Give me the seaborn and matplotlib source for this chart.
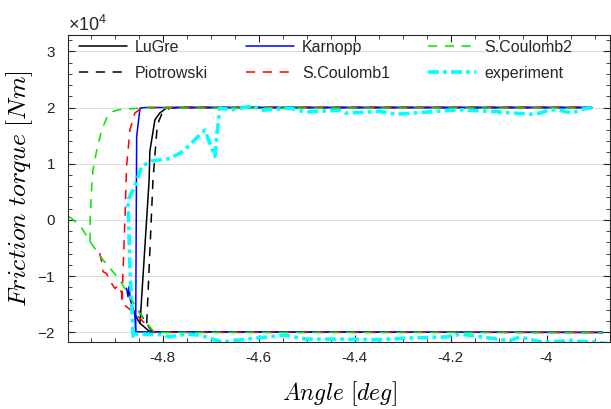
import numpy as np
import seaborn as sns
import matplotlib.pyplot as plt
from matplotlib.ticker import MultipleLocator, ScalarFormatter, FuncFormatter

# values, torque in units of 1e4 Nm
lugre_rise_x = [-4.847, -4.828, -4.8265, -4.816, -4.806, -4.792, -4.774, -3.906]
lugre_rise_y = [-1.84, 0.71, 1.22, 1.78, 1.90, 1.99, 2.00, 2.00]
lugre_low_x = [-4.862, -4.847, -4.826, -3.883]
lugre_low_y = [-1.62, -1.84, -1.99, -2.00]

piot_rise_x = [-4.833, -4.820, -4.811, -4.801, -4.785, -4.764, -3.906]
piot_rise_y = [-1.84, 0.71, 1.69, 1.90, 1.99, 2.00, 2.00]
piot_low_x = [-4.850, -4.833, -4.822, -3.883]
piot_low_y = [-1.62, -1.84, -1.99, -2.00]

karn_rise_x = [-4.856, -4.854, -4.847, -4.835, -3.906]
karn_rise_y = [-1.99, 1.48, 1.99, 2.00, 2.00]
karn_low_x = [-4.875, -4.872, -4.870, -4.867, -4.865, -4.858, -4.856, -3.883]
karn_low_y = [-1.215, -1.365, -1.187, -1.423, -1.482, -1.66, -1.99, -2.00]

sc1_rise_x = [-4.8845, -4.881, -4.878, -4.875, -4.868, -4.858, -4.847, -4.835, -3.906]
sc1_rise_y = [-1.42, -0.59, 0.12, 0.95, 1.60, 1.90, 1.97, 2.00, 2.00]
sc1_low_x = [-4.931, -4.927, -4.924, -4.917, -4.906, -4.899, -4.8925, -4.885,
             -4.8845, -4.858, -4.826, -4.818, -3.883]
sc1_low_y = [-0.59, -0.74, -0.92, -0.95, -1.13, -1.22, -1.16, -1.30,
             -1.48, -1.66, -1.93, -2.00, -2.00]

sc2_rise_x = [-4.951, -4.951, -4.948, -4.945, -4.937, -4.927, -4.916, -4.903, -4.892, -4.847, -3.906]
sc2_rise_y = [-0.39, 0.00, 0.53, 0.89, 1.25, 1.60, 1.82, 1.93, 1.96, 1.99, 1.99]
sc2_low_x = [-4.995, -4.972, -4.951, -4.924, -4.889, -4.868, -4.847, -4.826, -4.816, -3.883]
sc2_low_y = [0.06, -0.09, -0.39, -0.71, -1.07, -1.37, -1.66, -1.91, -2.00, -2.00]

exp_x = [-3.866, -3.901, -3.952, -4.012, -4.056, -4.077, -4.136, -4.179, -4.209, -4.283,
         -4.356, -4.429, -4.501, -4.545, -4.604, -4.677, -4.721, -4.750, -4.787, -4.801,
         -4.857, -4.861, -4.868, -4.872, -4.858, -4.844, -4.823, -4.785, -4.757, -4.712,
         -4.691, -4.681, -4.654, -4.612, -4.594, -4.535, -4.503, -4.431, -4.420, -4.347,
         -4.3125, -4.247, -4.181, -4.097, -4.035, -4.014, -3.993, -3.972, -3.948, -3.924,
         -3.906]
exp_y = [-2.21, -2.17, -2.15, -2.17, -2.08, -2.15, -2.08, -2.03, -2.08, -2.10,
         -2.13, -2.12, -2.12, -2.05, -2.10, -2.17, -2.05, -2.03, -2.08, -2.04,
         -2.03, -2.10, -0.83, 0.36, 0.59, 0.95, 1.05, 1.09, 1.22, 1.60,
         1.13, 1.99, 1.96, 2.03, 1.95, 1.99, 1.92, 1.95, 1.90, 1.93,
         1.88, 1.92, 1.96, 1.92, 1.88, 1.90, 1.96, 1.95, 1.90, 1.97,
         2.00]

sns.set_theme(style='ticks')
plt.rcParams['font.family'] = ['Liberation Sans', 'DejaVu Sans']
plt.rcParams['mathtext.fontset'] = 'custom'
plt.rcParams['mathtext.rm'] = 'Liberation Sans'
plt.rcParams['axes.unicode_minus'] = False

fig = plt.figure(figsize=(6.11, 4.09), dpi=100)
ax = fig.add_axes([0.1113, 0.1646, 0.887, 0.7499])


def seg(x, y, color, label=None, lw=1.1, ls='-'):
    sns.lineplot(x=np.array(x), y=np.array(y) * 1e4, sort=False, estimator=None,
                 ax=ax, color=color, linewidth=lw, linestyle=ls, label=label)


dash = (0, (6, 5))
seg(lugre_low_x, lugre_low_y, 'black')
seg(lugre_rise_x, lugre_rise_y, 'black', 'LuGre')
seg(piot_low_x, piot_low_y, 'black', ls=dash)
seg(piot_rise_x, piot_rise_y, 'black', 'Piotrowski', ls=dash)
seg(karn_low_x, karn_low_y, '#0000ff')
seg(karn_rise_x, karn_rise_y, '#0000ff', 'Karnopp')
seg(sc1_low_x, sc1_low_y, '#ff0000', ls=dash)
seg(sc1_rise_x, sc1_rise_y, '#ff0000', 'S.Coulomb1', ls=dash)
seg(sc2_low_x, sc2_low_y, '#00e600', ls=dash)
seg(sc2_rise_x, sc2_rise_y, '#00e600', 'S.Coulomb2', ls=dash)
seg(exp_x, exp_y, '#00ffff', 'experiment', lw=2.6, ls=(0, (3, 1.2, 1, 1.2)))

ax.set_xlim(-4.997, -3.868)
ax.set_ylim(-2.165e4, 3.29e4)
ax.xaxis.set_major_locator(MultipleLocator(0.2))
ax.xaxis.set_minor_locator(MultipleLocator(0.05))
ax.yaxis.set_major_locator(MultipleLocator(1e4))
ax.yaxis.set_minor_locator(MultipleLocator(2e3))
ax.xaxis.set_major_formatter(FuncFormatter(lambda v, p: f'{v:g}'))
fmt = ScalarFormatter(useMathText=True)
fmt.set_powerlimits((0, 0))
ax.yaxis.set_major_formatter(fmt)
off = ax.yaxis.get_offset_text()
off.set_fontsize(13)
off.set_color('#262626')

ax.tick_params(which='both', direction='in', top=True, right=True, color='#262626',
               labelcolor='#262626')
ax.tick_params(which='major', length=5, width=0.8, labelsize=11, pad=7)
ax.tick_params(axis='y', which='major', pad=9)
ax.tick_params(which='minor', length=3, width=0.6)
for s in ax.spines.values():
    s.set_color('#262626')
    s.set_linewidth(0.8)

ax.yaxis.grid(True, which='major', color='#dcdcdc', linewidth=0.8)
ax.xaxis.grid(False)
ax.set_axisbelow(True)

ax.set_xlabel(r'$Angle\ [deg]$', fontsize=17, math_fontfamily='cm', labelpad=10,
              color='black')
ax.set_ylabel(r'$Friction\ torque\ [Nm]$', fontsize=18.5, math_fontfamily='cm',
              labelpad=1, color='black')

ax.legend(loc='upper left', bbox_to_anchor=(0.02, 0.985), ncol=3, frameon=False,
          fontsize=11.5, handlelength=3.0, handletextpad=0.5, columnspacing=2.4,
          labelspacing=0.72, borderpad=0, borderaxespad=0)

fig.savefig('out.png', dpi=100)
